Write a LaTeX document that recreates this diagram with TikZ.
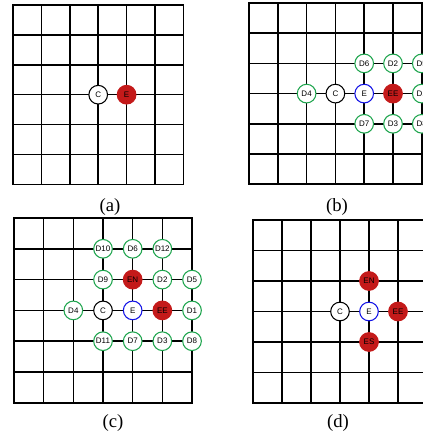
\documentclass[tikz,border=0pt]{standalone}
\usepackage{fontspec}
\setmainfont{Liberation Serif}
\newfontfamily\nodefont{Liberation Sans}
\usetikzlibrary{positioning}
\definecolor{hitred}{HTML}{C41A1A}
\definecolor{dgreen}{HTML}{1FA54E}
\definecolor{eblue}{HTML}{1414E6}
\tikzset{
  cell/.style={circle,draw,line width=0.8pt,fill=white,minimum size=14pt,inner sep=0pt,font=\nodefont\fontsize{6}{6}\selectfont},
  dnode/.style={cell,draw=dgreen},
  enode/.style={cell,draw=eblue},
  hit/.style={cell,draw=hitred,fill=hitred,text=black},
  board/.style={line width=1.1pt},
  caption/.style={font=\fontsize{14}{16}\selectfont}
}
\newcommand{\board}{%
  \draw[board] (0,0) rectangle (6,6);
  \foreach \i in {1,...,5}{\draw[board] (\i,0)--(\i,6); \draw[board] (0,\i)--(6,\i);}}

\begin{document}
\begin{tikzpicture}[x=0.75pt,y=-0.75pt]
  \useasboundingbox (0,0) rectangle (423,439);
  \clip (0,0) rectangle (423,439);
  % (a)
  \begin{scope}[shift={(13,5)},xscale=28.4,yscale=29.9]
    \board
    \node[cell] (a-C) at (3,3) {C};
    \node[hit] (a-E) at (4,3) {E};
  \end{scope}
  \node[caption] (a-lbl) at (110,207) {(a)};
  % (b)
  \begin{scope}[shift={(249,3)},xscale=28.8,yscale=30.2]
    \board
    \node[dnode] (b-D6) at (4,2) {D6};
    \node[dnode] (b-D2) at (5,2) {D2};
    \node[dnode] (b-D5) at (6,2) {D5};
    \node[dnode] (b-D4) at (2,3) {D4};
    \node[cell] (b-C) at (3,3) {C};
    \node[enode] (b-E) at (4,3) {E};
    \node[hit] (b-EE) at (5,3) {EE};
    \node[dnode] (b-D1) at (6,3) {D1};
    \node[dnode] (b-D7) at (4,4) {D7};
    \node[dnode] (b-D3) at (5,4) {D3};
    \node[dnode] (b-D8) at (6,4) {D8};
  \end{scope}
  \node[caption] (b-lbl) at (337,207) {(b)};
  % (c)
  \begin{scope}[shift={(14,218)},xscale=29.67,yscale=30.8]
    \board
    \node[dnode] (c-D10) at (3,1) {D10};
    \node[dnode] (c-D6) at (4,1) {D6};
    \node[dnode] (c-D12) at (5,1) {D12};
    \node[dnode] (c-D9) at (3,2) {D9};
    \node[hit] (c-EN) at (4,2) {EN};
    \node[dnode] (c-D2) at (5,2) {D2};
    \node[dnode] (c-D5) at (6,2) {D5};
    \node[dnode] (c-D4) at (2,3) {D4};
    \node[cell] (c-C) at (3,3) {C};
    \node[enode] (c-E) at (4,3) {E};
    \node[hit] (c-EE) at (5,3) {EE};
    \node[dnode] (c-D1) at (6,3) {D1};
    \node[dnode] (c-D11) at (3,4) {D11};
    \node[dnode] (c-D7) at (4,4) {D7};
    \node[dnode] (c-D3) at (5,4) {D3};
    \node[dnode] (c-D8) at (6,4) {D8};
  \end{scope}
  \node[caption] (c-lbl) at (113,423) {(c)};
  % (d)
  \begin{scope}[shift={(253,220)},xscale=29,yscale=30.5]
    \board
    \node[hit] (d-EN) at (4,2) {EN};
    \node[cell] (d-C) at (3,3) {C};
    \node[enode] (d-E) at (4,3) {E};
    \node[hit] (d-EE) at (5,3) {EE};
    \node[hit] (d-ES) at (4,4) {ES};
  \end{scope}
  \node[caption] (d-lbl) at (338,423) {(d)};
\end{tikzpicture}
\end{document}
